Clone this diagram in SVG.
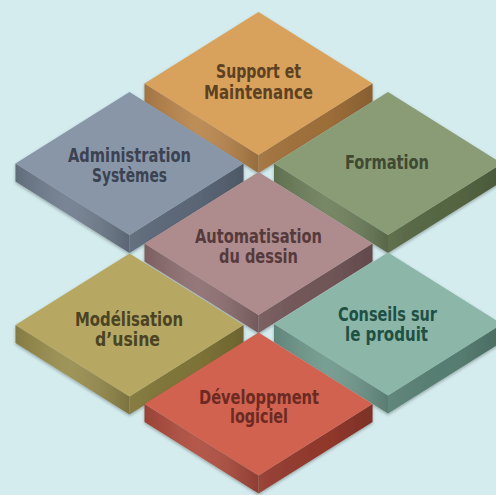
<svg xmlns="http://www.w3.org/2000/svg" width="496" height="495" viewBox="0 0 496 495">
<defs>
<filter id="sh" x="-10%" y="-10%" width="120%" height="130%">
<feDropShadow dx="0" dy="1.5" stdDeviation="1.5" flood-color="#000" flood-opacity="0.3"/>
</filter>
<linearGradient id="gl" x1="0" y1="0" x2="1" y2="0">
<stop offset="0" stop-color="#000" stop-opacity="0.12"/>
<stop offset="0.45" stop-color="#fff" stop-opacity="0.08"/>
<stop offset="1" stop-color="#000" stop-opacity="0.18"/>
</linearGradient>
<linearGradient id="gr" x1="0" y1="0" x2="1" y2="0">
<stop offset="0" stop-color="#fff" stop-opacity="0.06"/>
<stop offset="0.6" stop-color="#000" stop-opacity="0.02"/>
<stop offset="1" stop-color="#000" stop-opacity="0.15"/>
</linearGradient>
<polygon id="top" points="0,-71.5 114,0 0,71.5 -114,0"/>
<polygon id="ls" points="-114,0 0,71.5 0,89.5 -114,18"/>
<polygon id="rs" points="0,71.5 114,0 114,18 0,89.5"/>
</defs>
<style>
.lbl{font-family:"DejaVu Sans Condensed","DejaVu Sans","Liberation Sans",sans-serif;font-stretch:condensed;font-weight:bold;font-size:20px;text-anchor:middle}
.gl{fill:url(#gl)}
.gr{fill:url(#gr)}
</style>
<rect width="496" height="495" fill="#d4ecee"/>

<g id="support" transform="translate(258.5,83.5)" filter="url(#sh)">
<use href="#ls" fill="#b8844a"/><use href="#ls" class="gl"/>
<use href="#rs" fill="#a0703a"/><use href="#rs" class="gr"/>
<use href="#top" fill="#d8a25b"/>
</g>
<g id="admin" transform="translate(129.5,163.5)" filter="url(#sh)">
<use href="#ls" fill="#6e7b8c"/><use href="#ls" class="gl"/>
<use href="#rs" fill="#5c6878"/><use href="#rs" class="gr"/>
<use href="#top" fill="#8896a8"/>
</g>
<g id="formation" transform="translate(388,163.5)" filter="url(#sh)">
<use href="#ls" fill="#6c7e59"/><use href="#ls" class="gl"/>
<use href="#rs" fill="#566743"/><use href="#rs" class="gr"/>
<use href="#top" fill="#8a9c74"/>
</g>
<g id="auto" transform="translate(258.5,243.5)" filter="url(#sh)">
<use href="#ls" fill="#8c6c6e"/><use href="#ls" class="gl"/>
<use href="#rs" fill="#735759"/><use href="#rs" class="gr"/>
<use href="#top" fill="#ae8b8c"/>
</g>
<g id="modelisation" transform="translate(129.5,325)" filter="url(#sh)">
<use href="#ls" fill="#978b4b"/><use href="#ls" class="gl"/>
<use href="#rs" fill="#807538"/><use href="#rs" class="gr"/>
<use href="#top" fill="#b6a862"/>
</g>
<g id="conseils" transform="translate(388,324)" filter="url(#sh)">
<use href="#ls" fill="#6d978a"/><use href="#ls" class="gl"/>
<use href="#rs" fill="#587f73"/><use href="#rs" class="gr"/>
<use href="#top" fill="#8bb6a8"/>
</g>
<g id="developpment" transform="translate(258.5,404)" filter="url(#sh)">
<use href="#ls" fill="#ad4b3c"/><use href="#ls" class="gl"/>
<use href="#rs" fill="#93392d"/><use href="#rs" class="gr"/>
<use href="#top" fill="#d0624f"/>
</g>

<g id="labels">
<text class="lbl" fill="#5c4122" x="258.5" y="78" textLength="85" lengthAdjust="spacingAndGlyphs">Support et</text>
<text class="lbl" fill="#5c4122" x="258.5" y="99" textLength="109" lengthAdjust="spacingAndGlyphs">Maintenance</text>
<text class="lbl" fill="#3b4250" x="129.5" y="162" textLength="123" lengthAdjust="spacingAndGlyphs">Administration</text>
<text class="lbl" fill="#3b4250" x="129.5" y="182" textLength="75" lengthAdjust="spacingAndGlyphs">Systèmes</text>
<text class="lbl" fill="#3e4a31" x="387" y="169" textLength="84" lengthAdjust="spacingAndGlyphs">Formation</text>
<text class="lbl" fill="#553a3c" x="258.5" y="243" textLength="127" lengthAdjust="spacingAndGlyphs">Automatisation</text>
<text class="lbl" fill="#553a3c" x="258.5" y="263" textLength="79" lengthAdjust="spacingAndGlyphs">du dessin</text>
<text class="lbl" fill="#4b4424" x="129" y="326" textLength="108" lengthAdjust="spacingAndGlyphs">Modélisation</text>
<text class="lbl" fill="#4b4424" x="127.5" y="346" textLength="65" lengthAdjust="spacingAndGlyphs">d’usine</text>
<text class="lbl" fill="#1f5044" x="387.5" y="321" textLength="99" lengthAdjust="spacingAndGlyphs">Conseils sur</text>
<text class="lbl" fill="#1f5044" x="386.5" y="341" textLength="83" lengthAdjust="spacingAndGlyphs">le produit</text>
<text class="lbl" fill="#6b2a22" x="259" y="404" textLength="120" lengthAdjust="spacingAndGlyphs">Développment</text>
<text class="lbl" fill="#6b2a22" x="259" y="423" textLength="58" lengthAdjust="spacingAndGlyphs">logiciel</text>
</g>
</svg>
